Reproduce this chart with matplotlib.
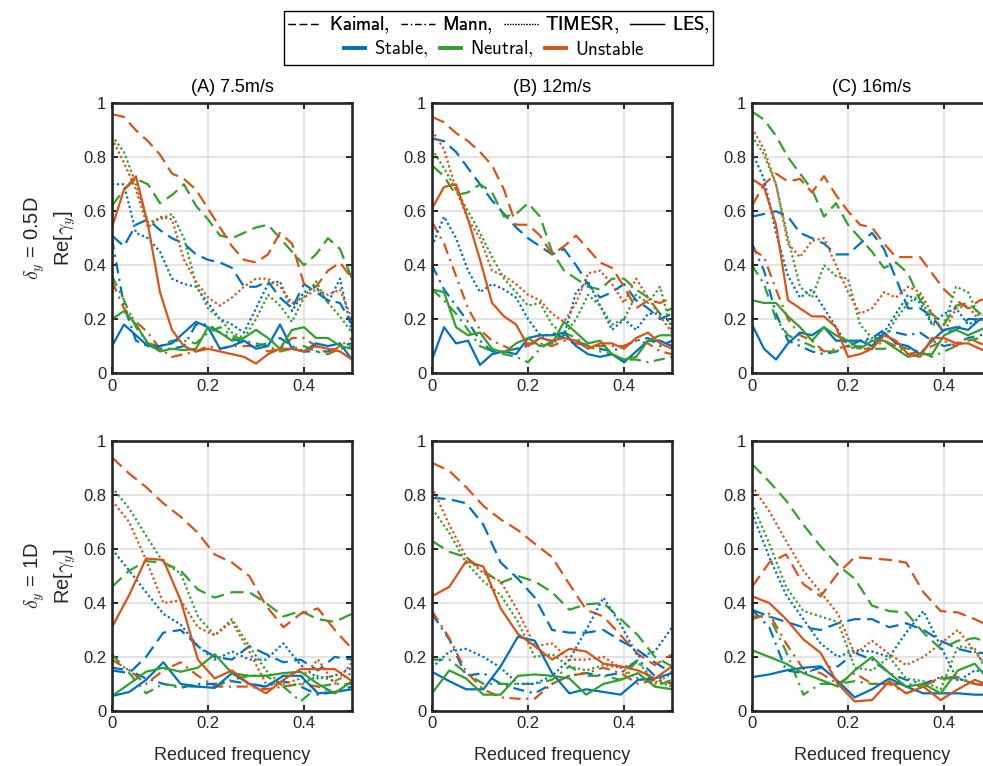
import matplotlib

matplotlib.use("Agg")
import matplotlib.pyplot as plt
from matplotlib.lines import Line2D
from matplotlib.patches import Rectangle

plt.rcParams["font.family"] = ["Liberation Sans", "DejaVu Sans"]
plt.rcParams["mathtext.fontset"] = "cm"

# reduced frequency grids (top row: dy = 0.5D, bottom row: dy = 1D)
freq_top = [0, 0.025, 0.05, 0.075, 0.1, 0.125, 0.15, 0.175, 0.2, 0.225, 0.25,
            0.275, 0.3, 0.325, 0.35, 0.375, 0.4, 0.425, 0.45, 0.475, 0.5]
freq_bot = [0, 0.036, 0.071, 0.107, 0.143, 0.179, 0.214, 0.25, 0.286, 0.321,
            0.357, 0.393, 0.429, 0.464, 0.5]

# each block: [stable, neutral, unstable]
# (A) 7.5 m/s, dy = 0.5D
A05_kaimal = [
    [0.51, 0.47, 0.55, 0.57, 0.53, 0.50, 0.48, 0.44, 0.42, 0.41, 0.39, 0.32, 0.32, 0.34, 0.28, 0.24, 0.33, 0.30, 0.27, 0.26, 0.18],
    [0.62, 0.68, 0.72, 0.70, 0.63, 0.66, 0.70, 0.62, 0.57, 0.51, 0.50, 0.52, 0.54, 0.55, 0.50, 0.45, 0.40, 0.44, 0.50, 0.46, 0.35],
    [0.96, 0.95, 0.90, 0.86, 0.81, 0.74, 0.72, 0.68, 0.61, 0.54, 0.47, 0.42, 0.41, 0.44, 0.52, 0.48, 0.33, 0.32, 0.38, 0.41, 0.35],
]
A05_mann = [
    [0.50, 0.25, 0.12, 0.10, 0.09, 0.09, 0.10, 0.18, 0.18, 0.15, 0.13, 0.11, 0.10, 0.11, 0.13, 0.10, 0.08, 0.08, 0.08, 0.10, 0.11],
    [0.36, 0.27, 0.17, 0.11, 0.10, 0.12, 0.12, 0.11, 0.15, 0.17, 0.14, 0.12, 0.11, 0.10, 0.08, 0.09, 0.10, 0.08, 0.07, 0.09, 0.10],
    [0.34, 0.24, 0.19, 0.15, 0.09, 0.06, 0.07, 0.08, 0.10, 0.09, 0.10, 0.10, 0.10, 0.08, 0.09, 0.13, 0.13, 0.10, 0.07, 0.10, 0.13],
]
A05_timesr = [
    [0.70, 0.70, 0.52, 0.50, 0.45, 0.35, 0.33, 0.32, 0.26, 0.20, 0.18, 0.15, 0.24, 0.33, 0.34, 0.23, 0.30, 0.32, 0.26, 0.35, 0.15],
    [0.88, 0.82, 0.70, 0.56, 0.57, 0.59, 0.50, 0.33, 0.24, 0.20, 0.15, 0.13, 0.20, 0.29, 0.25, 0.19, 0.28, 0.34, 0.26, 0.21, 0.15],
    [0.87, 0.78, 0.68, 0.54, 0.58, 0.57, 0.42, 0.34, 0.28, 0.25, 0.28, 0.32, 0.35, 0.35, 0.32, 0.26, 0.28, 0.31, 0.29, 0.31, 0.20],
]
A05_les = [
    [0.10, 0.18, 0.14, 0.10, 0.10, 0.11, 0.15, 0.19, 0.17, 0.09, 0.10, 0.12, 0.09, 0.10, 0.18, 0.09, 0.08, 0.11, 0.10, 0.11, 0.05],
    [0.20, 0.23, 0.18, 0.11, 0.08, 0.09, 0.085, 0.09, 0.17, 0.15, 0.12, 0.13, 0.16, 0.13, 0.09, 0.16, 0.17, 0.13, 0.13, 0.10, 0.09],
    [0.54, 0.68, 0.73, 0.55, 0.30, 0.16, 0.10, 0.08, 0.09, 0.08, 0.07, 0.06, 0.035, 0.07, 0.09, 0.09, 0.08, 0.10, 0.09, 0.08, 0.05],
]

# (B) 12 m/s, dy = 0.5D
B05_kaimal = [
    [0.87, 0.86, 0.82, 0.76, 0.70, 0.64, 0.59, 0.54, 0.50, 0.47, 0.44, 0.46, 0.40, 0.33, 0.28, 0.30, 0.33, 0.27, 0.24, 0.20, 0.22],
    [0.77, 0.73, 0.66, 0.67, 0.70, 0.67, 0.58, 0.59, 0.63, 0.58, 0.45, 0.38, 0.35, 0.32, 0.31, 0.35, 0.35, 0.31, 0.28, 0.22, 0.24],
    [0.95, 0.93, 0.89, 0.86, 0.82, 0.77, 0.68, 0.55, 0.55, 0.51, 0.44, 0.47, 0.51, 0.46, 0.41, 0.39, 0.32, 0.24, 0.27, 0.26, 0.28],
]
B05_mann = [
    [0.40, 0.31, 0.25, 0.19, 0.12, 0.08, 0.08, 0.09, 0.10, 0.13, 0.15, 0.13, 0.12, 0.10, 0.09, 0.08, 0.10, 0.12, 0.13, 0.10, 0.12],
    [0.31, 0.27, 0.22, 0.16, 0.10, 0.08, 0.07, 0.06, 0.04, 0.09, 0.12, 0.15, 0.13, 0.10, 0.08, 0.07, 0.05, 0.05, 0.04, 0.05, 0.06],
    [0.56, 0.48, 0.36, 0.24, 0.16, 0.12, 0.10, 0.08, 0.11, 0.11, 0.10, 0.12, 0.11, 0.10, 0.10, 0.10, 0.10, 0.12, 0.11, 0.08, 0.07],
]
B05_timesr = [
    [0.47, 0.58, 0.50, 0.38, 0.30, 0.33, 0.31, 0.28, 0.20, 0.14, 0.11, 0.14, 0.30, 0.34, 0.25, 0.16, 0.20, 0.16, 0.22, 0.22, 0.18],
    [0.83, 0.76, 0.68, 0.60, 0.52, 0.43, 0.35, 0.30, 0.25, 0.26, 0.18, 0.14, 0.20, 0.29, 0.25, 0.18, 0.20, 0.29, 0.26, 0.32, 0.15],
    [0.90, 0.83, 0.68, 0.57, 0.50, 0.38, 0.36, 0.33, 0.29, 0.27, 0.22, 0.19, 0.26, 0.37, 0.38, 0.33, 0.26, 0.35, 0.28, 0.21, 0.15],
]
B05_les = [
    [0.05, 0.17, 0.11, 0.12, 0.03, 0.07, 0.08, 0.07, 0.13, 0.14, 0.14, 0.15, 0.10, 0.07, 0.06, 0.07, 0.04, 0.08, 0.12, 0.12, 0.10],
    [0.31, 0.30, 0.17, 0.14, 0.15, 0.09, 0.075, 0.11, 0.13, 0.10, 0.11, 0.19, 0.15, 0.11, 0.12, 0.07, 0.05, 0.06, 0.12, 0.14, 0.14],
    [0.61, 0.69, 0.70, 0.57, 0.42, 0.26, 0.21, 0.18, 0.10, 0.13, 0.12, 0.13, 0.12, 0.09, 0.11, 0.11, 0.09, 0.13, 0.15, 0.11, 0.09],
]

# (C) 16 m/s, dy = 0.5D
C05_kaimal = [
    [0.58, 0.59, 0.60, 0.58, 0.52, 0.50, 0.48, 0.44, 0.44, 0.48, 0.52, 0.46, 0.35, 0.24, 0.24, 0.21, 0.15, 0.16, 0.20, 0.20, 0.20],
    [0.97, 0.94, 0.88, 0.80, 0.74, 0.68, 0.58, 0.63, 0.55, 0.50, 0.45, 0.39, 0.41, 0.37, 0.27, 0.22, 0.18, 0.25, 0.26, 0.22, 0.24],
    [0.62, 0.70, 0.74, 0.71, 0.72, 0.67, 0.73, 0.66, 0.60, 0.55, 0.54, 0.48, 0.43, 0.43, 0.43, 0.37, 0.31, 0.27, 0.24, 0.27, 0.28],
]
C05_mann = [
    [0.48, 0.38, 0.22, 0.12, 0.10, 0.08, 0.07, 0.08, 0.10, 0.12, 0.13, 0.16, 0.15, 0.14, 0.15, 0.12, 0.10, 0.11, 0.13, 0.14, 0.15],
    [0.40, 0.33, 0.20, 0.14, 0.12, 0.10, 0.08, 0.08, 0.09, 0.10, 0.09, 0.09, 0.10, 0.09, 0.08, 0.06, 0.08, 0.10, 0.12, 0.13, 0.14],
    [0.46, 0.43, 0.31, 0.20, 0.14, 0.12, 0.08, 0.09, 0.10, 0.09, 0.09, 0.12, 0.10, 0.07, 0.08, 0.10, 0.12, 0.10, 0.13, 0.11, 0.10],
]
C05_timesr = [
    [0.82, 0.72, 0.52, 0.36, 0.28, 0.31, 0.24, 0.17, 0.10, 0.12, 0.12, 0.15, 0.22, 0.29, 0.26, 0.18, 0.22, 0.24, 0.18, 0.20, 0.18],
    [0.88, 0.81, 0.70, 0.50, 0.32, 0.28, 0.40, 0.36, 0.35, 0.18, 0.13, 0.13, 0.20, 0.26, 0.29, 0.18, 0.18, 0.32, 0.30, 0.20, 0.25],
    [0.91, 0.83, 0.70, 0.48, 0.43, 0.49, 0.50, 0.40, 0.30, 0.22, 0.24, 0.30, 0.28, 0.32, 0.30, 0.22, 0.15, 0.24, 0.25, 0.19, 0.25],
]
C05_les = [
    [0.18, 0.09, 0.05, 0.11, 0.15, 0.14, 0.17, 0.12, 0.12, 0.12, 0.10, 0.15, 0.11, 0.10, 0.07, 0.12, 0.16, 0.17, 0.16, 0.20, 0.20],
    [0.27, 0.26, 0.26, 0.21, 0.17, 0.12, 0.17, 0.14, 0.12, 0.09, 0.12, 0.12, 0.09, 0.06, 0.07, 0.07, 0.14, 0.16, 0.14, 0.16, 0.18],
    [0.72, 0.69, 0.55, 0.27, 0.24, 0.21, 0.21, 0.17, 0.06, 0.07, 0.09, 0.14, 0.12, 0.07, 0.06, 0.13, 0.13, 0.11, 0.11, 0.09, 0.07],
]

# (A) 7.5 m/s, dy = 1D
A1_kaimal = [
    [0.15, 0.14, 0.20, 0.29, 0.30, 0.24, 0.20, 0.19, 0.24, 0.21, 0.18, 0.19, 0.15, 0.20, 0.19],
    [0.46, 0.52, 0.555, 0.55, 0.52, 0.45, 0.42, 0.44, 0.44, 0.40, 0.35, 0.37, 0.34, 0.33, 0.36],
    [0.94, 0.88, 0.83, 0.77, 0.72, 0.66, 0.58, 0.55, 0.50, 0.39, 0.31, 0.36, 0.38, 0.30, 0.23],
]
A1_mann = [
    [0.16, 0.15, 0.12, 0.10, 0.085, 0.10, 0.10, 0.11, 0.10, 0.09, 0.11, 0.09, 0.06, 0.07, 0.09],
    [0.21, 0.14, 0.065, 0.10, 0.09, 0.09, 0.09, 0.115, 0.13, 0.13, 0.09, 0.035, 0.09, 0.10, 0.10],
    [0.19, 0.15, 0.10, 0.15, 0.18, 0.13, 0.09, 0.09, 0.09, 0.08, 0.09, 0.10, 0.09, 0.065, 0.11],
]
A1_timesr = [
    [0.60, 0.52, 0.44, 0.36, 0.32, 0.24, 0.19, 0.22, 0.19, 0.19, 0.25, 0.17, 0.12, 0.13, 0.16],
    [0.83, 0.75, 0.65, 0.55, 0.51, 0.35, 0.28, 0.34, 0.24, 0.15, 0.09, 0.10, 0.13, 0.11, 0.14],
    [0.78, 0.70, 0.56, 0.40, 0.41, 0.31, 0.28, 0.33, 0.22, 0.10, 0.10, 0.12, 0.19, 0.10, 0.18],
]
A1_les = [
    [0.055, 0.07, 0.115, 0.18, 0.10, 0.09, 0.085, 0.14, 0.10, 0.09, 0.13, 0.13, 0.065, 0.07, 0.08],
    [0.055, 0.10, 0.145, 0.16, 0.145, 0.16, 0.21, 0.14, 0.13, 0.13, 0.14, 0.145, 0.10, 0.065, 0.11],
    [0.31, 0.43, 0.565, 0.56, 0.41, 0.19, 0.12, 0.15, 0.10, 0.065, 0.115, 0.155, 0.155, 0.155, 0.11],
]

# (B) 12 m/s, dy = 1D
B1_kaimal = [
    [0.79, 0.785, 0.77, 0.69, 0.55, 0.49, 0.42, 0.30, 0.29, 0.29, 0.30, 0.26, 0.225, 0.18, 0.14],
    [0.63, 0.59, 0.57, 0.52, 0.475, 0.50, 0.48, 0.44, 0.375, 0.395, 0.40, 0.34, 0.28, 0.20, 0.165],
    [0.92, 0.89, 0.83, 0.76, 0.71, 0.67, 0.62, 0.57, 0.47, 0.375, 0.35, 0.28, 0.21, 0.17, 0.21],
]
B1_mann = [
    [0.36, 0.265, 0.13, 0.14, 0.10, 0.08, 0.065, 0.10, 0.13, 0.14, 0.13, 0.14, 0.19, 0.13, 0.10],
    [0.19, 0.19, 0.14, 0.10, 0.10, 0.10, 0.10, 0.115, 0.165, 0.13, 0.13, 0.115, 0.19, 0.09, 0.115],
    [0.37, 0.27, 0.145, 0.08, 0.05, 0.045, 0.045, 0.10, 0.13, 0.14, 0.16, 0.14, 0.10, 0.115, 0.10],
]
B1_timesr = [
    [0.16, 0.22, 0.23, 0.20, 0.16, 0.10, 0.10, 0.13, 0.19, 0.30, 0.42, 0.32, 0.20, 0.22, 0.31],
    [0.75, 0.66, 0.55, 0.48, 0.43, 0.33, 0.20, 0.21, 0.165, 0.15, 0.17, 0.16, 0.18, 0.11, 0.09],
    [0.83, 0.69, 0.57, 0.51, 0.48, 0.37, 0.24, 0.25, 0.19, 0.19, 0.20, 0.16, 0.12, 0.10, 0.14],
]
B1_les = [
    [0.145, 0.11, 0.08, 0.08, 0.165, 0.275, 0.26, 0.14, 0.065, 0.08, 0.07, 0.06, 0.115, 0.12, 0.14],
    [0.065, 0.15, 0.12, 0.06, 0.06, 0.13, 0.135, 0.13, 0.12, 0.06, 0.10, 0.115, 0.14, 0.09, 0.08],
    [0.425, 0.46, 0.555, 0.535, 0.38, 0.285, 0.24, 0.19, 0.23, 0.22, 0.175, 0.165, 0.15, 0.12, 0.165],
]

# (C) 16 m/s, dy = 1D
C1_kaimal = [
    [0.375, 0.35, 0.33, 0.31, 0.30, 0.325, 0.34, 0.34, 0.31, 0.325, 0.30, 0.26, 0.23, 0.215, 0.215],
    [0.915, 0.85, 0.78, 0.69, 0.61, 0.54, 0.49, 0.39, 0.37, 0.365, 0.29, 0.23, 0.26, 0.27, 0.25],
    [0.46, 0.55, 0.58, 0.47, 0.425, 0.51, 0.57, 0.565, 0.56, 0.55, 0.44, 0.37, 0.365, 0.34, 0.31],
]
C1_mann = [
    [0.375, 0.31, 0.15, 0.14, 0.16, 0.165, 0.215, 0.19, 0.14, 0.115, 0.10, 0.125, 0.12, 0.10, 0.09],
    [0.35, 0.35, 0.22, 0.06, 0.10, 0.10, 0.11, 0.10, 0.10, 0.10, 0.09, 0.12, 0.12, 0.10, 0.10],
    [0.34, 0.36, 0.25, 0.155, 0.14, 0.10, 0.14, 0.10, 0.10, 0.065, 0.09, 0.125, 0.125, 0.10, 0.09],
]
C1_timesr = [
    [0.735, 0.57, 0.43, 0.34, 0.25, 0.20, 0.225, 0.22, 0.20, 0.29, 0.37, 0.24, 0.11, 0.15, 0.14],
    [0.77, 0.62, 0.46, 0.37, 0.35, 0.33, 0.16, 0.15, 0.20, 0.12, 0.11, 0.08, 0.24, 0.23, 0.11],
    [0.835, 0.74, 0.63, 0.52, 0.44, 0.36, 0.21, 0.26, 0.21, 0.17, 0.20, 0.25, 0.30, 0.22, 0.14],
]
C1_les = [
    [0.125, 0.135, 0.15, 0.16, 0.165, 0.11, 0.05, 0.08, 0.12, 0.09, 0.065, 0.065, 0.065, 0.06, 0.06],
    [0.225, 0.20, 0.175, 0.14, 0.115, 0.09, 0.15, 0.20, 0.14, 0.09, 0.10, 0.065, 0.15, 0.175, 0.10],
    [0.425, 0.40, 0.34, 0.265, 0.215, 0.10, 0.035, 0.04, 0.11, 0.065, 0.09, 0.04, 0.08, 0.115, 0.09],
]

titles = ["(A) 7.5m/s", "(B) 12m/s", "(C) 16m/s"]
row_labels = [r"$\delta_y$ = 0.5D", r"$\delta_y$ = 1D"]
model_names = [r"$\mathsf{Kaimal,}$", r"$\mathsf{Mann,}$", r"$\mathsf{TIMESR,}$", r"$\mathsf{LES,}$"]
stab_names = [r"$\mathsf{Stable,}$", r"$\mathsf{Neutral,}$", r"$\mathsf{Unstable}$"]

COLORS = ["#0072BD", "#33A02C", "#D95319"]
STYLES = [(0, (6, 3)), (0, (5, 2.5, 1, 2.5)), (0, (1, 1.2)), "-"]
INK = "#262626"

panels = [
    [(freq_top, [A05_kaimal, A05_mann, A05_timesr, A05_les]),
     (freq_top, [B05_kaimal, B05_mann, B05_timesr, B05_les]),
     (freq_top, [C05_kaimal, C05_mann, C05_timesr, C05_les])],
    [(freq_bot, [A1_kaimal, A1_mann, A1_timesr, A1_les]),
     (freq_bot, [B1_kaimal, B1_mann, B1_timesr, B1_les]),
     (freq_bot, [C1_kaimal, C1_mann, C1_timesr, C1_les])],
]

fig = plt.figure(figsize=(9.83, 7.66), dpi=100)

lefts = [0.1139, 0.4395, 0.765]
bottoms = [0.513, 0.072]
W, H = 0.2442, 0.352

for r in range(2):
    for c in range(3):
        ax = fig.add_axes([lefts[c], bottoms[r], W, H])
        freq, blocks = panels[r][c]
        for style, block in zip(STYLES, blocks):
            for color, vals in zip(COLORS, block):
                ax.plot(freq, vals, color=color, linestyle=style, linewidth=1.6)
        ax.set_xlim(0, 0.5)
        ax.set_ylim(0, 1)
        ax.set_xticks([0, 0.2, 0.4])
        ax.set_xticklabels(["0", "0.2", "0.4"])
        ax.set_yticks([0, 0.2, 0.4, 0.6, 0.8, 1])
        ax.set_yticklabels(["0", "0.2", "0.4", "0.6", "0.8", "1"])
        ax.grid(True, color="#DCDCDC", linewidth=1.1)
        ax.set_axisbelow(True)
        ax.tick_params(direction="in", top=True, right=True, length=4,
                       width=1.4, labelsize=12, colors=INK, pad=4)
        for s in ax.spines.values():
            s.set_linewidth(1.9)
            s.set_color(INK)
        if r == 0:
            ax.set_title(titles[c], fontsize=13, pad=8, color="black")
        else:
            ax.set_xlabel("Reduced frequency", fontsize=13, labelpad=11, color=INK)
        if c == 0:
            ax.set_ylabel(row_labels[r] + "\n" + r"Re[$\gamma_y$]", fontsize=14.5,
                          labelpad=4, linespacing=1.3, color=INK)

# legend box on top
model_handles = [Line2D([], [], color="black", linestyle=s, linewidth=0.9) for s in STYLES]
stab_handles = [Line2D([], [], color=c, linewidth=2.8) for c in COLORS]
leg1 = fig.legend(model_handles, model_names, loc="center", ncol=4, frameon=False,
                  bbox_to_anchor=(0.507, 0.967), fontsize=13.5, handlelength=1.8,
                  handletextpad=0.4, columnspacing=0.6, borderaxespad=0)
leg2 = fig.legend(stab_handles, stab_names, loc="center", ncol=3, frameon=False,
                  bbox_to_anchor=(0.503, 0.935), fontsize=13.5, handlelength=1.1,
                  handletextpad=0.5, columnspacing=0.6, borderaxespad=0)
fig.add_artist(leg1)
fig.patches.append(Rectangle((284 / 983, 1 - 65 / 766), 429 / 983, 54 / 766,
                             transform=fig.transFigure, fill=False,
                             edgecolor="black", linewidth=1))

fig.savefig("out.png")
